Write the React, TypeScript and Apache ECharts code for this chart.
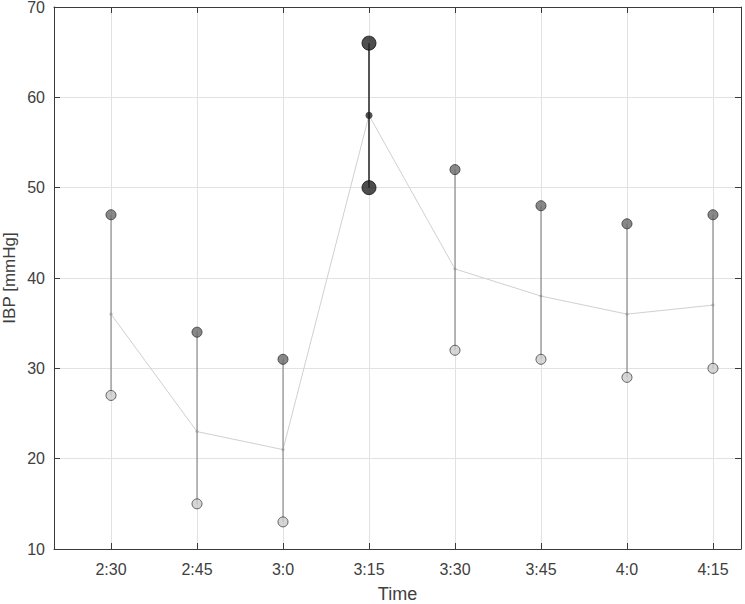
import React, { useEffect, useRef } from "react";
import * as echarts from "echarts";

const times = ["2:30", "2:45", "3:0", "3:15", "3:30", "3:45", "4:0", "4:15"];
const highs = [47, 34, 31, 66, 52, 48, 46, 47];
const lows = [27, 15, 13, 50, 32, 31, 29, 30];
const means = [36, 23, 21, 58, 41, 38, 36, 37];
const highlightIndex = 3;
const yTicks = [10, 20, 30, 40, 50, 60, 70];

export default function App() {
  const ref = useRef<HTMLDivElement>(null);
  useEffect(() => {
    if (!ref.current) return;
    const chart = echarts.init(ref.current, undefined, { renderer: "svg" });
    const pos = times.map((_, i) => i + 1);
    const font = "'Liberation Sans', Arial, Helvetica, sans-serif";
    const axisColor = "#3a3a3a";
    const labelColor = "#404040";
    const xBase = {
      type: "value" as const,
      min: 0.337,
      max: 8.326,
      axisLine: { show: true, onZero: false, lineStyle: { color: axisColor, width: 1 } },
      axisTick: { show: true, inside: true, length: 6, customValues: pos, lineStyle: { color: axisColor } },
    };
    const yBase = {
      type: "value" as const,
      min: yTicks[0],
      max: yTicks[yTicks.length - 1],
      interval: 10,
      axisLine: { show: true, onZero: false, lineStyle: { color: axisColor, width: 1 } },
      axisTick: { show: true, inside: true, length: 6, lineStyle: { color: axisColor } },
    };
    chart.setOption({
      animation: false,
      backgroundColor: "#ffffff",
      grid: { left: 54, top: 7, right: 4, bottom: 55, containLabel: false, outerBoundsMode: "none" },
      xAxis: [
        {
          ...xBase,
          position: "bottom",
          name: "Time",
          nameLocation: "middle",
          nameGap: 36,
          nameMoveOverlap: false,
          nameTextStyle: { fontFamily: font, fontSize: 18, color: labelColor },
          axisLabel: {
            customValues: pos,
            margin: 12,
            fontFamily: font,
            fontSize: 16,
            color: labelColor,
            formatter: (v: number) => times[Math.round(v) - 1] ?? "",
          },
          splitLine: { show: true, lineStyle: { color: "#e2e2e2", width: 1 } },
        },
        {
          ...xBase,
          position: "top",
          axisLabel: { show: false },
          splitLine: { show: false },
        },
      ],
      yAxis: [
        {
          ...yBase,
          position: "left",
          name: "IBP [mmHg]",
          nameLocation: "middle",
          nameGap: 36,
          nameMoveOverlap: false,
          nameTextStyle: { fontFamily: font, fontSize: 17, color: labelColor },
          axisLabel: { margin: 9, fontFamily: font, fontSize: 16, color: labelColor },
          splitLine: { show: true, lineStyle: { color: "#e2e2e2", width: 1 } },
        },
        {
          ...yBase,
          position: "right",
          axisLabel: { show: false },
          splitLine: { show: false },
        },
      ],
      series: [
        {
          type: "line",
          z: 2,
          data: means.map((m, i) => [pos[i], m]),
          symbol: "none",
          lineStyle: { color: "#d0d0d0", width: 1 },
        },
        {
          type: "custom",
          z: 3,
          data: highs.map((h, i) => [pos[i], lows[i], h]),
          renderItem: (params: any, api: any) => {
            const x = api.value(0);
            const p1 = api.coord([x, api.value(1)]);
            const p2 = api.coord([x, api.value(2)]);
            const hl = params.dataIndex === highlightIndex;
            return {
              type: "line",
              shape: { x1: p1[0], y1: p1[1], x2: p2[0], y2: p2[1] },
              style: { stroke: hl ? "#222222" : "#7a7a7a", lineWidth: hl ? 1.5 : 1 },
            };
          },
        },
        {
          type: "scatter",
          z: 4,
          symbol: "circle",
          data: means.map((m, i) => ({
            value: [pos[i], m],
            symbolSize: i === highlightIndex ? 7 : 3,
            itemStyle: { color: i === highlightIndex ? "#222222" : "#999999" },
          })),
        },
        {
          type: "scatter",
          z: 5,
          symbol: "circle",
          data: highs.map((h, i) => ({
            value: [pos[i], h],
            symbolSize: i === highlightIndex ? 14 : 10,
            itemStyle:
              i === highlightIndex
                ? { color: "#222222", borderColor: "#111111", borderWidth: 1 }
                : { color: "#6a6a6a", borderColor: "#333333", borderWidth: 1 },
          })),
        },
        {
          type: "scatter",
          z: 5,
          symbol: "circle",
          data: lows.map((l, i) => ({
            value: [pos[i], l],
            symbolSize: i === highlightIndex ? 14 : 10,
            itemStyle:
              i === highlightIndex
                ? { color: "#222222", borderColor: "#111111", borderWidth: 1 }
                : { color: "#cccccc", borderColor: "#404040", borderWidth: 1 },
          })),
        },
      ],
    });
    return () => chart.dispose();
  }, []);
  return <div ref={ref} style={{ width: 745, height: 604, position: "absolute", left: 0, top: 0 }} />;
}
